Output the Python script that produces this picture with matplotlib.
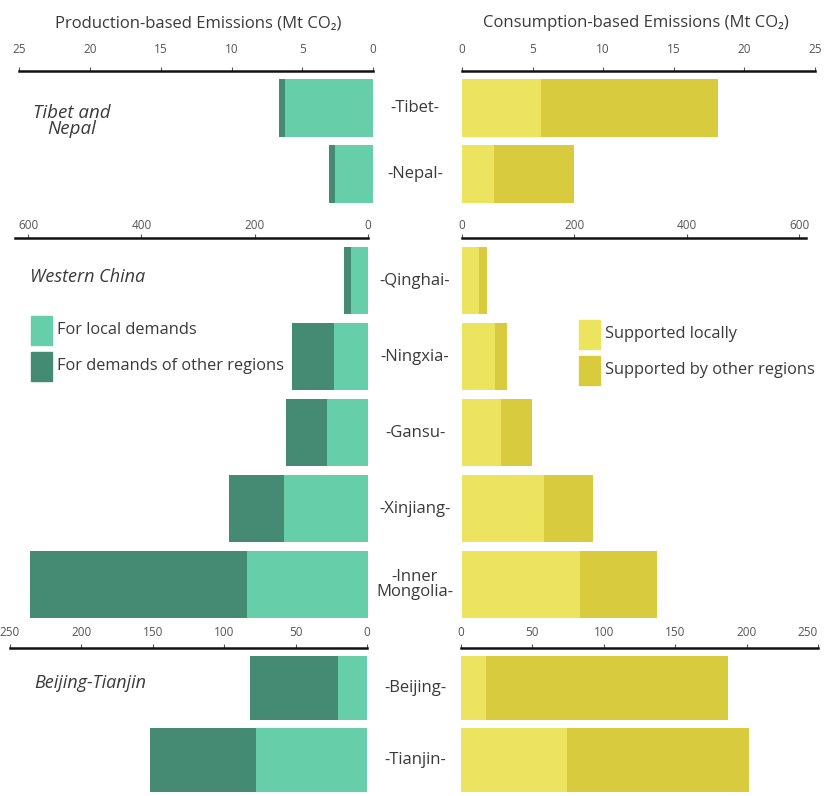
import matplotlib
matplotlib.use("Agg")
import matplotlib.pyplot as plt
from matplotlib.patches import Rectangle
from matplotlib.transforms import blended_transform_factory
import numpy as np

plt.rcParams['font.family'] = ['Open Sans', 'DejaVu Sans']

# ---- data (Mt CO2) ----
tn_regions = ['-Tibet-', '-Nepal-']
tn_prod_local = [6.2, 2.7]
tn_prod_other = [0.45, 0.4]
tn_cons_local = [5.6, 2.3]
tn_cons_other = [12.5, 5.6]

wc_regions = ['-Qinghai-', '-Ningxia-', '-Gansu-', '-Xinjiang-', '-Inner\nMongolia-']
wc_prod_local = [30, 59.5, 71.6, 148.6, 213]
wc_prod_other = [11.8, 74, 73.4, 96.4, 383]
wc_cons_local = [29.7, 59, 70, 146, 210]
wc_cons_other = [15.3, 21, 54, 87, 137]

bt_regions = ['-Beijing-', '-Tianjin-']
bt_prod_local = [20, 78]
bt_prod_other = [62, 74]
bt_cons_local = [17.5, 74.5]
bt_cons_other = [169.5, 127.5]

green_l = '#66cfaa'
green_d = '#458a73'
yellow_l = '#ece35f'
yellow_d = '#d8cb3e'
txt = '#3a3a3a'

W, H = 824, 796
fig = plt.figure(figsize=(W / 100, H / 100), dpi=100)


def px_axes(x0, x1, y0, y1):
    return fig.add_axes([x0 / W, 1 - y1 / H, (x1 - x0) / W, (y1 - y0) / H])


def panel(x0, x1, line_y, pitch, n, xlim, ticks, pad):
    off = 0.56
    y1 = line_y + (off + n - 0.5) * pitch
    ax = px_axes(x0, x1, line_y, y1)
    ax.set_xlim(*xlim)
    ax.set_ylim(n - 0.5, -off)
    ax.patch.set_alpha(0)
    for s in ['left', 'right', 'bottom']:
        ax.spines[s].set_visible(False)
    ax.spines['top'].set_linewidth(1.8)
    ax.spines['top'].set_color('#111111')
    ax.xaxis.tick_top()
    ax.set_xticks(ticks)
    ax.tick_params(axis='x', length=3, width=0.8, color='#555555',
                   labelsize=8.5, labelcolor='#555555', pad=pad)
    ax.set_yticks([])
    return ax


def draw(ax, local, other, c1, c2):
    y = np.arange(len(local))
    ax.barh(y, local, height=0.89, color=c1)
    ax.barh(y, other, left=local, height=0.89, color=c2)


def labels(ax, names):
    tr = blended_transform_factory(fig.transFigure, ax.transData)
    for i, nm in enumerate(names):
        ax.text(415 / W, i, nm, transform=tr, ha='center', va='center',
                fontsize=12, color=txt, linespacing=0.85)


# Tibet and Nepal
axl = panel(19.3, 373, 71, 66, 2, (25, 0), [25, 20, 15, 10, 5, 0], 7.8)
axr = panel(462, 815, 71, 66, 2, (0, 25), [0, 5, 10, 15, 20, 25], 7.8)
draw(axl, tn_prod_local, tn_prod_other, green_l, green_d)
draw(axr, tn_cons_local, tn_cons_other, yellow_l, yellow_d)
labels(axr, tn_regions)

# Western China
axl = panel(15, 368, 238, 76, 5, (623, 0), [600, 400, 200, 0], 1.5)
axr = panel(462, 806, 238, 76, 5, (0, 612), [0, 200, 400, 600], 1.5)
draw(axl, wc_prod_local, wc_prod_other, green_l, green_d)
draw(axr, wc_cons_local, wc_cons_other, yellow_l, yellow_d)
labels(axr, wc_regions)

# Beijing-Tianjin
axl = panel(10, 367, 648, 72, 2, (250, 0), [250, 200, 150, 100, 50, 0], 3.8)
axr = panel(461, 818, 648, 72, 2, (0, 250), [0, 50, 100, 150, 200, 250], 3.8)
axr.get_xticklabels()[-1].set_horizontalalignment('right')
draw(axl, bt_prod_local, bt_prod_other, green_l, green_d)
draw(axr, bt_cons_local, bt_cons_other, yellow_l, yellow_d)
labels(axr, bt_regions)

# titles
fig.text(198 / W, 1 - 23 / H, 'Production-based Emissions (Mt CO\u2082)',
         ha='center', va='center', fontsize=12, color=txt)
fig.text(636 / W, 1 - 23 / H, 'Consumption-based Emissions (Mt CO\u2082)',
         ha='center', va='center', fontsize=12, color=txt)

# group names
fig.text(72 / W, 1 - 121 / H, 'Tibet and\nNepal', ha='center', va='center',
         fontsize=13.5, style='italic', color=txt, linespacing=0.85)
fig.text(30 / W, 1 - 277 / H, 'Western China', ha='left', va='center',
         fontsize=13, style='italic', color=txt)
fig.text(34 / W, 1 - 683 / H, 'Beijing-Tianjin', ha='left', va='center',
         fontsize=13, style='italic', color=txt)

# legends
def legend_item(x, y, c, label):
    fig.add_artist(Rectangle((x / W, 1 - (y + 29) / H), 21 / W, 29 / H,
                             transform=fig.transFigure, color=c))
    fig.text((x + 26) / W, 1 - (y + 14) / H, label, ha='left', va='center',
             fontsize=11.8, color=txt)


legend_item(31, 316, green_l, 'For local demands')
legend_item(31, 352, green_d, 'For demands of other regions')
legend_item(579, 320, yellow_l, 'Supported locally')
legend_item(579, 356, yellow_d, 'Supported by other regions')

fig.savefig('out.png', dpi=100)
